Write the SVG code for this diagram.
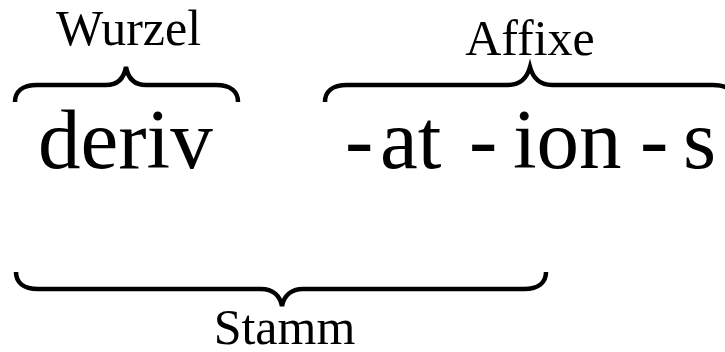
<svg xmlns="http://www.w3.org/2000/svg" width="725" height="352" viewBox="0 0 725 352">
<style>
.lbl{font-family:"Liberation Serif","Times New Roman",serif;font-size:50px;fill:#000;text-anchor:middle}
.big{font-family:"Liberation Serif","Times New Roman",serif;font-size:85px;fill:#000}
.brace{fill:none;stroke:#000;stroke-width:4.5;stroke-linejoin:miter;stroke-linecap:butt}
</style>
<rect width="725" height="352" fill="#fff"/>
<g id="wurzel">
<text class="lbl" x="128.5" y="45">Wurzel</text>
</g>
<g id="affixe">
<text class="lbl" x="530" y="55">Affixe</text>
</g>
<g id="root">
<text class="big" x="38" y="168">deriv</text>
</g>
<g id="affixes">
<text class="big" y="168"><tspan x="345">-</tspan><tspan x="380">at</tspan><tspan x="469">-</tspan><tspan x="513">ion</tspan><tspan x="640">-</tspan><tspan x="683">s</tspan></text>
</g>
<g id="stamm">
<text class="lbl" x="284.5" y="344">Stamm</text>
</g>
<g id="connectors">
<path class="brace" d="M15,102 C15,92 22,85 37,85 L106,85 C118,85 124,78 126,67 C128,78 134,85 146,85 L216,85 C231,85 238,92 238,102"/>
<path class="brace" d="M325,102 C325,92 332,85 347,85 L508,85 C520,85 527,78 530,67 C533,78 540,85 552,85 L713,85 C728,85 735,92 735,102"/>
<path class="brace" d="M16,272 C16,282 23,289 38,289 L261,289 C273,289 280,296 282,306 C284,296 291,289 303,289 L524,289 C539,289 546,282 546,272"/>
</g>
</svg>
